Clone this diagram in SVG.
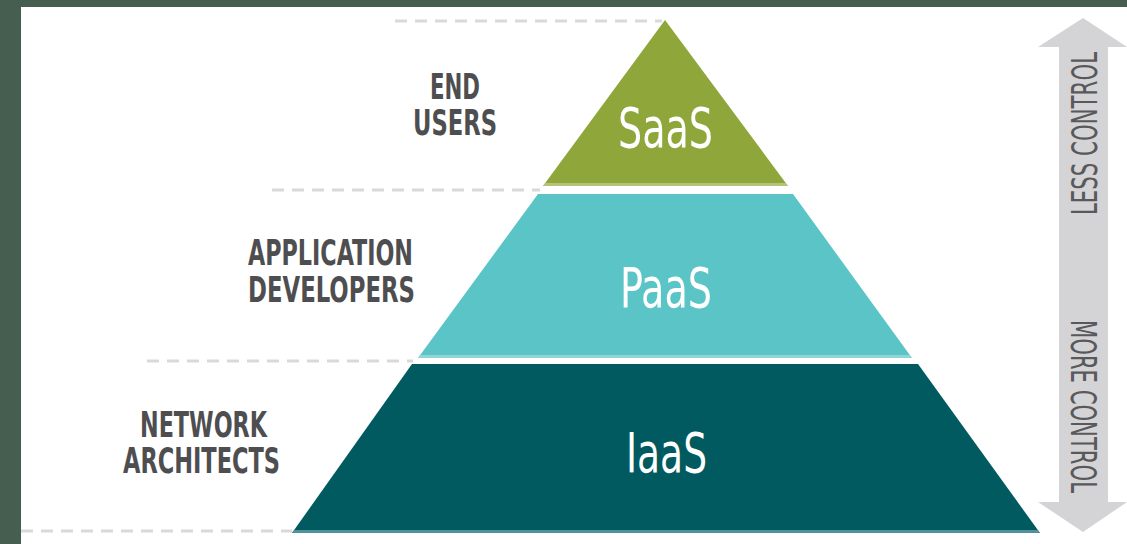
<svg xmlns="http://www.w3.org/2000/svg" width="1127" height="544" viewBox="0 0 1127 544">
  <style>
    .dash { stroke: #d9d9db; stroke-width: 3; stroke-dasharray: 12 8; fill: none; }
    .lbl { font-family: "Liberation Sans Narrow", "DejaVu Sans Condensed", "Liberation Sans", sans-serif; font-weight: bold; font-size: 35px; fill: #4e4e50; text-anchor: middle; }
    .tier { font-family: "Liberation Sans Narrow", "DejaVu Sans Condensed", "Liberation Sans", sans-serif; font-size: 55px; fill: #ffffff; text-anchor: middle; }
    .ctl { font-family: "Liberation Sans Narrow", "DejaVu Sans Condensed", "Liberation Sans", sans-serif; font-size: 35px; fill: #59595b; }
  </style>
  <rect x="0" y="0" width="1127" height="544" fill="#465e50"/>
  <rect x="21" y="7" width="1106" height="537" fill="#ffffff"/>

  <g id="connectors">
    <line class="dash" x1="395" y1="21" x2="662" y2="21"/>
    <line class="dash" x1="272" y1="190" x2="540" y2="190"/>
    <line class="dash" x1="147" y1="361" x2="413" y2="361"/>
    <line class="dash" x1="21" y1="531" x2="292" y2="531"/>
  </g>

  <g id="saas">
    <polygon points="665,20 788,186 543,186" fill="#8fa63a"/>
    <polygon points="545.2,183 785.8,183 788,186 543,186" fill="#b6c27c"/>
    <text class="tier" x="665.5" y="147" textLength="95" lengthAdjust="spacingAndGlyphs">SaaS</text>
  </g>

  <g id="paas">
    <polygon points="538,194 793,194 912,358 418,358" fill="#5bc4c6"/>
    <polygon points="420.2,355 909.8,355 912,358 418,358" fill="#8fd5d5"/>
    <text class="tier" x="666" y="307" textLength="92" lengthAdjust="spacingAndGlyphs">PaaS</text>
  </g>

  <g id="iaas">
    <polygon points="412,364 918,364 1040,533 292,533" fill="#005a60"/>
    <polygon points="294.1,530 1037.8,530 1040,533 292,533" fill="#4f9398"/>
    <text class="tier" x="666.5" y="472" textLength="81" lengthAdjust="spacingAndGlyphs">IaaS</text>
  </g>

  <g id="label-end-users">
    <text class="lbl" x="455" y="99" textLength="50" lengthAdjust="spacingAndGlyphs">END</text>
    <text class="lbl" x="455" y="135" textLength="84" lengthAdjust="spacingAndGlyphs">USERS</text>
  </g>

  <g id="label-app-dev">
    <text class="lbl" x="330.5" y="265" textLength="165" lengthAdjust="spacingAndGlyphs">APPLICATION</text>
    <text class="lbl" x="331.5" y="302" textLength="167" lengthAdjust="spacingAndGlyphs">DEVELOPERS</text>
  </g>

  <g id="label-net-arch">
    <text class="lbl" x="203.5" y="437" textLength="127" lengthAdjust="spacingAndGlyphs">NETWORK</text>
    <text class="lbl" x="201.5" y="473" textLength="157" lengthAdjust="spacingAndGlyphs">ARCHITECTS</text>
  </g>

  <g id="control-arrow">
    <polygon points="1083,18 1127,47 1108,47 1108,502 1127,502 1083,532 1038,502 1059,502 1059,47 1038,47" fill="#d4d4d6"/>
    <text class="ctl" transform="translate(1097,215) rotate(-90)" x="0" y="0" textLength="163" lengthAdjust="spacingAndGlyphs">LESS CONTROL</text>
    <text class="ctl" transform="translate(1071,320) rotate(90)" x="0" y="0" textLength="173" lengthAdjust="spacingAndGlyphs">MORE CONTROL</text>
  </g>
</svg>
